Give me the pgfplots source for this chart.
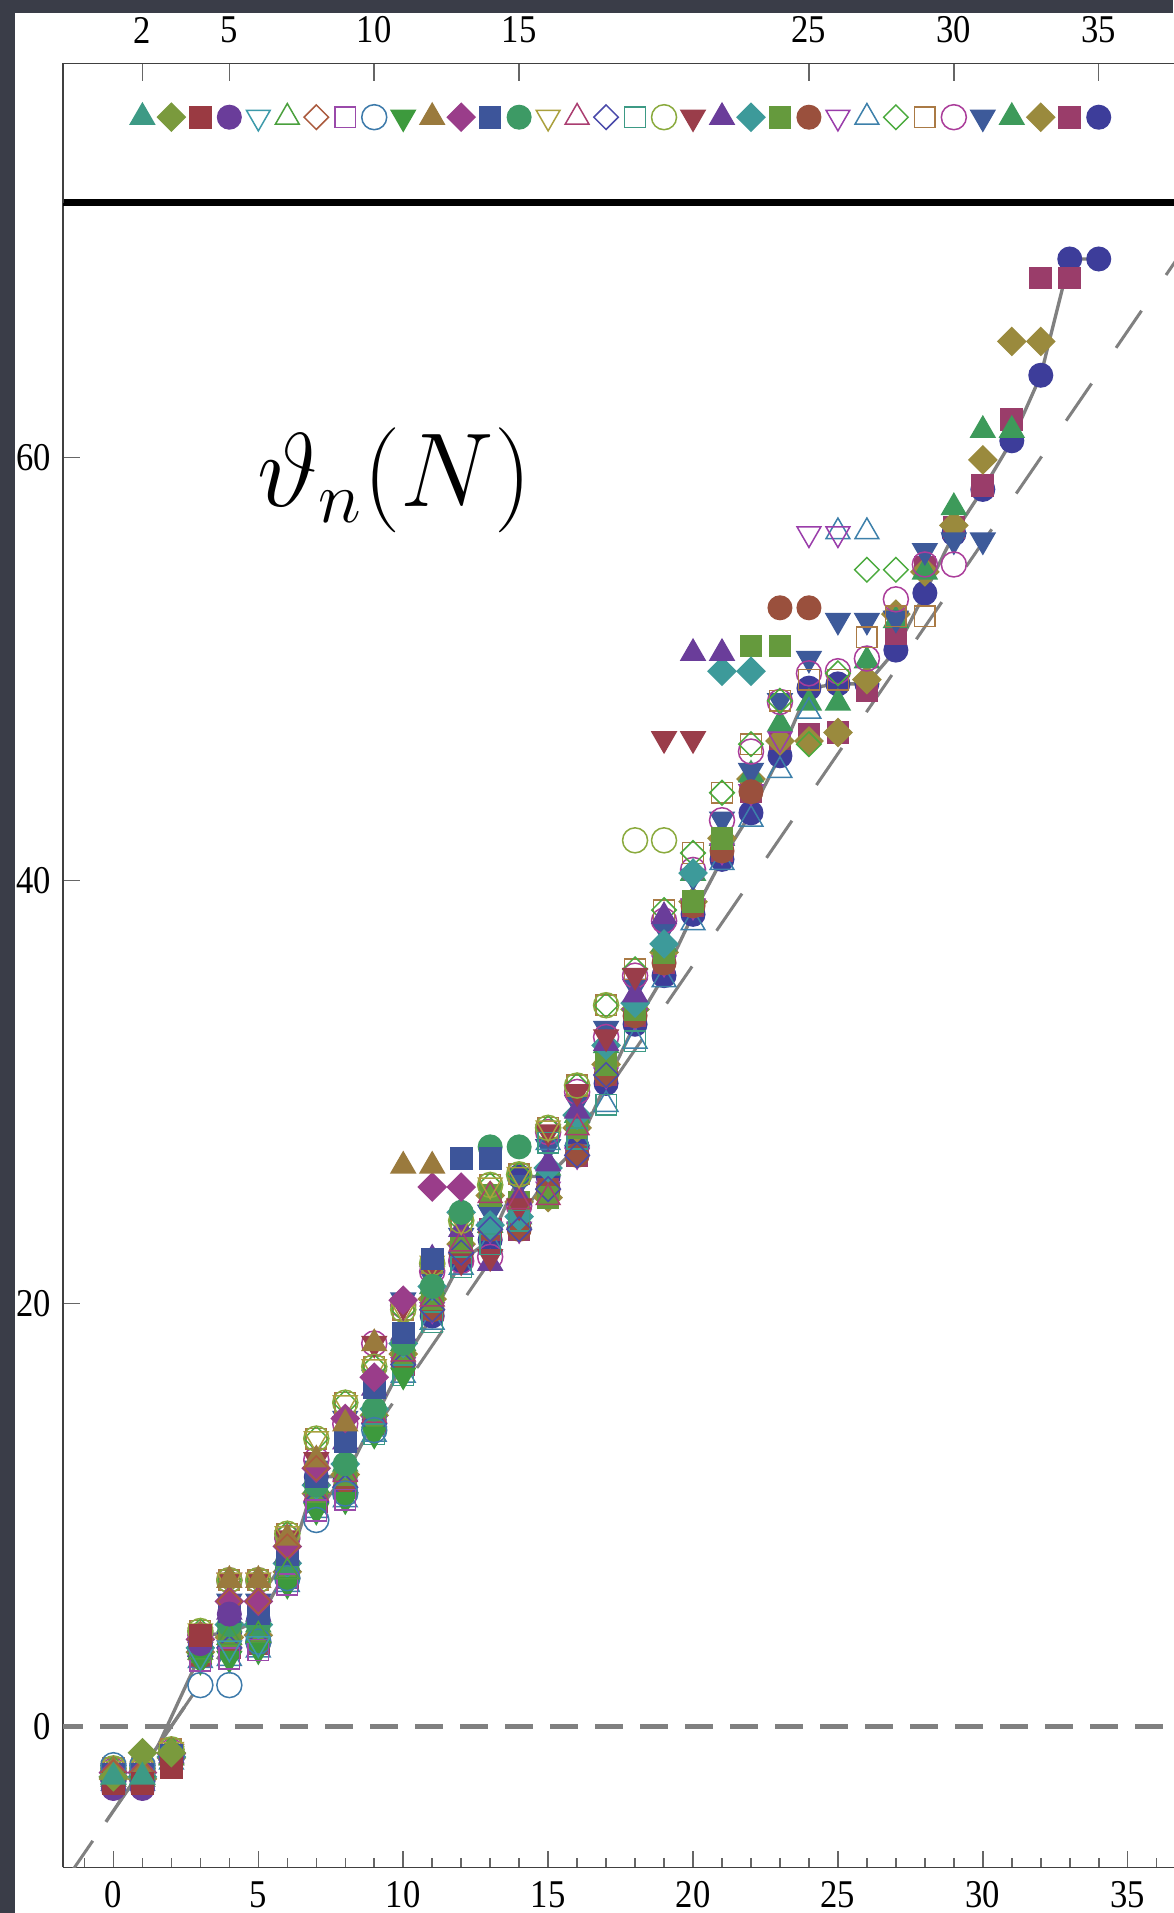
\documentclass[border=0pt]{standalone}
\usepackage[no-math]{fontspec}
\setmainfont{Liberation Serif}
\newfontfamily\tickfont[FakeStretch=0.88]{Liberation Serif}
\usepackage{pgfplots}
\pgfplotsset{compat=1.18}
\usepackage{pgfplotstable}

\definecolor{bgdark}{RGB}{58,61,72}
\definecolor{c2}{HTML}{3D9A85}
\definecolor{c3}{HTML}{7A9A3D}
\definecolor{c4}{HTML}{9A3A42}
\definecolor{c5}{HTML}{6A3D9A}
\definecolor{c6}{HTML}{3D9AAA}
\definecolor{c7}{HTML}{4AA03D}
\definecolor{c8}{HTML}{AA5A3D}
\definecolor{c9}{HTML}{9A4AAA}
\definecolor{c10}{HTML}{3D7AAA}
\definecolor{c11}{HTML}{3D9A3D}
\definecolor{c12}{HTML}{9A7A3D}
\definecolor{c13}{HTML}{9A3D8A}
\definecolor{c14}{HTML}{3D559A}
\definecolor{c15}{HTML}{3D9A65}
\definecolor{c16}{HTML}{AAA03D}
\definecolor{c17}{HTML}{AA3D70}
\definecolor{c18}{HTML}{4A4AAA}
\definecolor{c19}{HTML}{3D9A85}
\definecolor{c20}{HTML}{8AAA3D}
\definecolor{c21}{HTML}{9A3D4A}
\definecolor{c22}{HTML}{6A3D9A}
\definecolor{c23}{HTML}{3D9A9A}
\definecolor{c24}{HTML}{659A3D}
\definecolor{c25}{HTML}{9A503D}
\definecolor{c26}{HTML}{9A3DAA}
\definecolor{c27}{HTML}{3D80AA}
\definecolor{c28}{HTML}{4AAA3D}
\definecolor{c29}{HTML}{AA7A45}
\definecolor{c30}{HTML}{AA3D9A}
\definecolor{c31}{HTML}{3D5A9A}
\definecolor{c32}{HTML}{3D9A5A}
\definecolor{c33}{HTML}{9A8A3D}
\definecolor{c34}{HTML}{9A3D6A}
\definecolor{c35}{HTML}{3D3D9A}

% marker shapes (cycle of ten)
\pgfplotsset{
  mTU/.style={mark=triangle*, mark size=4.2pt, mark options={solid}},
  mD/.style={mark=square*, mark size=2.95pt, mark options={solid, rotate=45}},
  mS/.style={mark=square*, mark size=3.2pt, mark options={solid}},
  mC/.style={mark=*, mark size=3.55pt, mark options={solid}},
  oTD/.style={mark=triangle, mark size=4.1pt, mark options={solid, rotate=180, line width=0.45pt}},
  oTU/.style={mark=triangle, mark size=4.1pt, mark options={solid, line width=0.45pt}},
  oD/.style={mark=square, mark size=2.6pt, mark options={solid, rotate=45, line width=0.45pt}},
  oS/.style={mark=square, mark size=3.1pt, mark options={solid, line width=0.45pt}},
  oC/.style={mark=o, mark size=3.75pt, mark options={solid, line width=0.45pt}},
  mTD/.style={mark=triangle*, mark size=4.2pt, mark options={solid, rotate=180}},
  s2/.style={only marks, color=c2, mTU},
  s3/.style={only marks, color=c3, mD},
  s4/.style={only marks, color=c4, mS},
  s5/.style={only marks, color=c5, mC},
  s6/.style={only marks, color=c6, oTD},
  s7/.style={only marks, color=c7, oTU},
  s8/.style={only marks, color=c8, oD},
  s9/.style={only marks, color=c9, oS},
  s10/.style={only marks, color=c10, oC},
  s11/.style={only marks, color=c11, mTD},
  s12/.style={only marks, color=c12, mTU},
  s13/.style={only marks, color=c13, mD},
  s14/.style={only marks, color=c14, mS},
  s15/.style={only marks, color=c15, mC},
  s16/.style={only marks, color=c16, oTD},
  s17/.style={only marks, color=c17, oTU},
  s18/.style={only marks, color=c18, oD},
  s19/.style={only marks, color=c19, oS},
  s20/.style={only marks, color=c20, oC},
  s21/.style={only marks, color=c21, mTD},
  s22/.style={only marks, color=c22, mTU},
  s23/.style={only marks, color=c23, mD},
  s24/.style={only marks, color=c24, mS},
  s25/.style={only marks, color=c25, mC},
  s26/.style={only marks, color=c26, oTD},
  s27/.style={only marks, color=c27, oTU},
  s28/.style={only marks, color=c28, oD},
  s29/.style={only marks, color=c29, oS},
  s30/.style={only marks, color=c30, oC},
  s31/.style={only marks, color=c31, mTD},
  s32/.style={only marks, color=c32, mTU},
  s33/.style={only marks, color=c33, mD},
  s34/.style={only marks, color=c34, mS},
  s35/.style={only marks, color=c35, mC},
}

% stacked values per N (columns A..H from upper to lower part of each stack), S = n=35
\pgfplotstableread{
N  A      B      C      D      E      F      G      H      S
0  -2.0   -2.1   -2.2   -2.3   -2.4   -2.5   -2.6   -2.7   -2.8
1  -2.0   -2.1   -2.2   -2.3   -2.4   -2.5   -2.6   -2.7   -2.8
2  -1.1   -1.2   -1.3   -1.4   -1.45  -1.5   -1.6   -1.7   -1.6
3  4.5    4.3    4.1    3.9    3.7    3.5    3.3    3.1    4.3
4  6.9    6.9    5.9    5.4    4.8    4.2    3.7    3.2    4.4
5  6.9    6.9    5.9    5.3    4.8    4.3    3.9    3.6    5.0
6  9.1    8.9    8.5    8.1    7.7    7.3    7.0    6.7    7.4
7  13.6   12.6   12.2   11.8   11.4   11.0   10.6   10.2   11.8
8  15.3   14.3   14.55  13.45  12.4   11.9   11.3   10.7   11.8
9  17.0   18.1   16.5   16.0   15.0   14.7   14.3   13.8   14.5
10 19.7   19.9   20.15  18.6   18.1   17.6   17.1   16.6   17.2
11 21.9   21.5   21.2   22.1   20.8   20.2   19.7   19.1   19.4
12 23.9   22.0   23.2   23.5   24.3   22.8   22.4   21.7   22.0
13 25.6   22.2   24.3   21.9   23.7   25.1   23.5   22.8   23.0
14 26.1   24.6   25.7   25.0   24.1   24.8   23.5   23.9   26.0
15 28.3   28.1   27.4   26.6   26.4   25.0   25.4   27.6   26.0
16 30.3   30.0   29.5   29.1   28.9   28.3   27.0   27.8   27.4
17 34.1   32.6   33.0   32.3   32.2   31.3   30.8   29.4   30.4
18 35.8   35.5   35.0   34.6   34.2   33.9   33.6   32.4   33.2
19 38.6   38.1   37.7   38.3   37.0   36.6   36.1   35.3   35.5
20 41.3   40.5   40.2   39.8   40.35  39.0   38.8   38.0   38.4
21 44.15  42.85  42.9   42.5   42.0   42.0   41.4   40.85  41.0
22 46.45  46.1   45.2   45.0   45.0   44.8   44.2   42.9   43.2
23 48.5   48.45  48.5   47.8   47.4   46.6   46.7   45.2   45.9
24 nan    nan    nan    nan    nan    nan    nan    nan    49.1
25 nan    nan    nan    nan    nan    nan    nan    nan    49.3
26 nan    nan    nan    nan    nan    nan    nan    nan    49.3
27 nan    nan    nan    nan    nan    nan    nan    nan    50.9
28 nan    nan    nan    nan    nan    nan    nan    nan    53.6
29 nan    nan    nan    nan    nan    nan    nan    nan    56.4
30 nan    nan    nan    nan    nan    nan    nan    nan    58.5
31 nan    nan    nan    nan    nan    nan    nan    nan    60.8
32 nan    nan    nan    nan    nan    nan    nan    nan    63.9
33 nan    nan    nan    nan    nan    nan    nan    nan    69.4
34 nan    nan    nan    nan    nan    nan    nan    nan    69.4
}\levels

\begin{document}
\begin{tikzpicture}
% slide background and white panel
\fill[bgdark] (0pt,0pt) rectangle (351.9pt,573.9pt);
\fill[white] (4.6pt,0pt) rectangle (351.9pt,569.85pt);

\begin{axis}[
  name=main,
  at={(18.9pt,13.7pt)}, anchor=south west,
  x=8.694pt, y=6.342pt,
  xmin=-1.74, xmax=40, ymin=-6.68, ymax=72.06,
  axis lines*=left,
  axis line style={line width=0.45pt, color=black!75},
  xtick={0,5,...,35},
  minor xtick={-1,0,...,39},
  ytick={0,20,40,60},
  tick align=inside,
  major tick length=5pt, minor tick length=2.7pt,
  tick style={color=black!60, line width=0.45pt},
  /pgf/number format/assume math mode=true,
  ticklabel style={font=\tickfont\fontsize{11.8}{13}\selectfont},
  xticklabel style={yshift=-0.8pt},
]
% reference lines
\addplot[gray, line width=1.5pt, dash pattern=on 8.4pt off 5.1pt, dash phase=2.4pt] coordinates {(-1.74,0) (40,0)};
\addplot[gray, line width=0.9pt, dash pattern=on 13.5pt off 13pt, dash phase=24.2pt] coordinates {(-1.74,-7.48) (40,76)};
\addplot[gray, line width=1pt] coordinates {(-0.26,-4.53) (2.45,0.9)};
\addplot[gray, line width=1pt] coordinates {(1.5,-1.05) (2.9,3.1) (3,4.3)};
\addplot[gray, line width=1pt] table[x=N, y=S, restrict x to domain=3:34] {\levels};

% n = 35 ... 2 (larger n drawn first)
\addplot[s35] table[x=N, y=S] {\levels};
\addplot[s34] table[x=N, y=G, restrict x to domain=0:23] {\levels};
\addplot[s34] coordinates {(24,46.9) (25,47.0) (26,49.0) (27,51.7) (28,54.8) (29,56.7) (30,58.7) (31,61.8) (32,68.5) (33,68.5)};
\addplot[s33] table[x=N, y=F, restrict x to domain=0:23] {\levels};
\addplot[s33] coordinates {(24,46.6) (25,47.0) (26,49.5) (27,52.6) (28,54.6) (29,56.8) (30,59.9) (31,65.5) (32,65.5)};
\addplot[s32] table[x=N, y=E, restrict x to domain=0:23] {\levels};
\addplot[s32] coordinates {(24,48.4) (25,48.4) (26,50.4) (27,52.3) (28,54.6) (29,57.65) (30,61.3) (31,61.3)};
\addplot[s31] table[x=N, y=C, restrict x to domain=0:23] {\levels};
\addplot[s31] coordinates {(24,50.5) (25,52.3) (26,52.3) (27,52.4) (28,55.6) (29,56.1) (30,56.1)};
\addplot[s30] table[x=N, y=B, restrict x to domain=0:23] {\levels};
\addplot[s30] coordinates {(24,49.8) (25,49.9) (26,50.5) (27,53.3) (28,54.95) (29,54.95)};
\addplot[s29] table[x=N, y=A, restrict x to domain=0:23] {\levels};
\addplot[s29] coordinates {(24,49.5) (25,49.5) (26,51.5) (27,52.5) (28,52.5)};
\addplot[s28] table[x=N, y=A, restrict x to domain=0:23] {\levels};
\addplot[s28] coordinates {(24,46.45) (25,49.8) (26,54.7) (27,54.7)};
\addplot[s27] table[x=N, y=H, restrict x to domain=0:23] {\levels};
\addplot[s27] coordinates {(24,48.0) (25,56.5) (26,56.5)};
\addplot[s26] table[x=N, y=G, restrict x to domain=0:23] {\levels};
\addplot[s26] coordinates {(24,56.4) (25,56.4)};
\addplot[s25] table[x=N, y=G, restrict x to domain=0:22] {\levels};
\addplot[s25] coordinates {(23,52.9) (24,52.9)};
\addplot[s24] table[x=N, y=F, restrict x to domain=0:21] {\levels};
\addplot[s24] coordinates {(22,51.1) (23,51.1)};
\addplot[s23] table[x=N, y=E, restrict x to domain=0:20] {\levels};
\addplot[s23] coordinates {(21,49.9) (22,49.9)};
\addplot[s22] table[x=N, y=D, restrict x to domain=0:19] {\levels};
\addplot[s22] coordinates {(20,50.75) (21,50.75)};
\addplot[s21] table[x=N, y=B, restrict x to domain=0:18] {\levels};
\addplot[s21] coordinates {(19,46.7) (20,46.7)};
\addplot[s20] table[x=N, y=A, restrict x to domain=0:17] {\levels};
\addplot[s20] coordinates {(18,41.9) (19,41.9)};
\addplot[s19] table[x=N, y=H, restrict x to domain=0:18] {\levels};
\addplot[s18] table[x=N, y=G, restrict x to domain=0:17] {\levels};
\addplot[s17] table[x=N, y=F, restrict x to domain=0:16] {\levels};
\addplot[s16] table[x=N, y=A, restrict x to domain=0:15] {\levels};
\addplot[s15] table[x=N, y=E, restrict x to domain=0:12] {\levels};
\addplot[s15] coordinates {(13,27.4) (14,27.4)};
\addplot[s14] table[x=N, y=D, restrict x to domain=0:11] {\levels};
\addplot[s14] coordinates {(12,26.85) (13,26.85)};
\addplot[s13] table[x=N, y=C, restrict x to domain=0:10] {\levels};
\addplot[s13] coordinates {(11,25.5) (12,25.5)};
\addplot[s12] table[x=N, y=B, restrict x to domain=0:9] {\levels};
\addplot[s12] coordinates {(10,26.5) (11,26.5)};
\addplot[s11] table[x=N, y=H, restrict x to domain=0:10] {\levels};
\addplot[s10] coordinates {(0,-1.85) (1,-1.85) (2,-1.4) (3,1.94) (4,1.94) (5,4.0) (6,7.0) (7,9.75) (8,11.0) (9,14.0)};
\addplot[s9] table[x=N, y=H, restrict x to domain=0:8] {\levels};
\addplot[s8] table[x=N, y=C, restrict x to domain=0:7] {\levels};
\addplot[s7] table[x=N, y=F, restrict x to domain=0:6] {\levels};
\addplot[s6] table[x=N, y=G, restrict x to domain=0:5] {\levels};
\addplot[s5] coordinates {(0,-2.95) (1,-2.95) (2,-1.5) (3,3.9) (4,5.3)};
\addplot[s4] coordinates {(0,-2.7) (1,-2.7) (2,-1.95) (3,4.3)};
\addplot[s3] coordinates {(0,-2.4) (1,-1.26) (2,-1.26)};
\addplot[s2] coordinates {(0,-2.4) (1,-2.4)};
\end{axis}
\draw[line width=2pt, black] (main.north west) -- (main.north east);

% marker key along n
\begin{axis}[
  at={(18.9pt,513.1pt)}, anchor=south west,
  x=8.694pt, y=41.75pt,
  xmin=-0.74, xmax=41, ymin=0, ymax=1,
  axis x line*=top, axis y line*=left,
  axis line style={line width=0.45pt, color=black!75},
  xtick={2,5,10,15,25,30,35}, ytick=\empty,
  tick align=inside, major tick length=5.4pt,
  tick style={color=black!60, line width=0.45pt},
  /pgf/number format/assume math mode=true,
  ticklabel style={font=\tickfont\fontsize{11.8}{13}\selectfont},
  xticklabel style={yshift=2.6pt},
  clip=false,
]
\pgfplotsinvokeforeach{2,...,35}{\addplot[s#1] coordinates {(#1,0.614)};}
\end{axis}

\node[anchor=base west, inner sep=0pt, scale=1.52, font=\fontsize{20.74}{25}\selectfont] at (77pt,422pt) {$\vartheta_n(N)$};

\pgfresetboundingbox
\useasboundingbox (0pt,0pt) rectangle (351.9pt,573.9pt);
\end{tikzpicture}
\end{document}
